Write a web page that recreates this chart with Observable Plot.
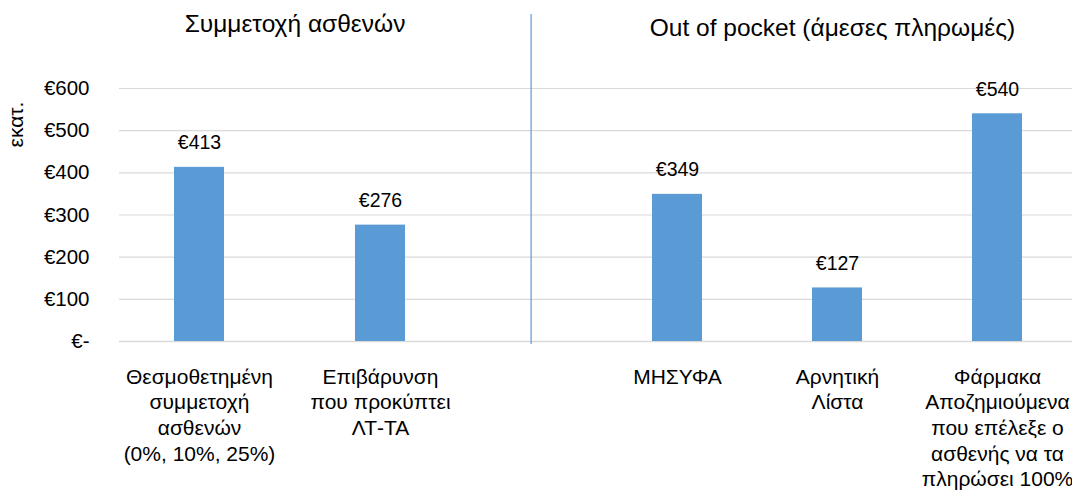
<!DOCTYPE html>
<html>
<head>
<meta charset="utf-8">
<script src="https://cdn.jsdelivr.net/npm/d3@7"></script>
<script src="https://cdn.jsdelivr.net/npm/@observablehq/plot@0.6"></script>
<style>
  html, body { margin: 0; padding: 0; background: #fff; }
  #chart { display: flex; width: 1072px; height: 499px; }
  #chart svg { flex: 0 0 auto; max-width: none; }
</style>
</head>
<body>
<div id="chart"></div>
<script>
// ---- data ----
const groupTitles = ["Συμμετοχή ασθενών", "Out of pocket (άμεσες πληρωμές)"];
const leftCategories = ["Θεσμοθετημένη\nσυμμετοχή\nασθενών\n(0%, 10%, 25%)", "Επιβάρυνση\nπου προκύπτει\nΛΤ-ΤΑ"];
const leftValues = [413, 276];
const rightCategories = ["ΜΗΣΥΦΑ", "Αρνητική\nΛίστα", "Φάρμακα\nΑποζημιούμενα\nπου επέλεξε ο\nασθενής να τα\nπληρώσει 100%"];
const rightValues = [349, 127, 540];
const yTicks = [0, 100, 200, 300, 400, 500, 600];
const yLabel = "εκατ.";

// ---- styling ----
const FONT = "'Liberation Sans', Arial, Helvetica, sans-serif";
const BAR = "#5b9bd5";
const GRID = "#d9d9d9";
const H = 499, MT = 88, MB = 158;
const euro = v => v === 0 ? "€-" : "€" + v;

function panel({cats, vals, title, width, marginLeft, xRange, pInner, titleDx, titleDy, withAxis, withSeparator}) {
  const data = cats.map((c, i) => ({c, v: vals[i]}));
  const marks = [
    Plot.gridY(yTicks, {stroke: GRID, strokeOpacity: 1, strokeWidth: 1.2}),
    Plot.ruleY([0], {stroke: GRID, strokeWidth: 1.6}),
    Plot.barY(data, {x: "c", y: "v", fill: BAR}),
    Plot.text(data, {x: "c", y: "v", text: d => euro(d.v), lineAnchor: "bottom", dy: -18, fontSize: 19.5, fill: "black"}),
    Plot.text(data, {x: "c", text: "c", frameAnchor: "bottom", lineAnchor: "top", dy: 24, fontSize: 21, lineHeight: 1.22, fill: "black"}),
    Plot.text([title], {frameAnchor: "top", lineAnchor: "middle", dx: titleDx, dy: titleDy, fontSize: 24.5, fill: "black"})
  ];
  if (withAxis) {
    marks.push(Plot.axisY(yTicks, {tickSize: 0, tickPadding: 30, tickFormat: euro, fontSize: 20.5, label: null, fill: "black"}));
    marks.push(Plot.text([yLabel], {frameAnchor: "top-left", rotate: -90, dx: -103, dy: 36, lineAnchor: "middle", textAnchor: "middle", fontSize: 21, fill: "black"}));
  }
  if (withSeparator) {
    marks.push(Plot.frame({anchor: "left", stroke: BAR, strokeWidth: 1.2, insetLeft: 0.6, insetTop: -74, insetBottom: -2}));
  }
  return Plot.plot({
    width, height: H,
    marginTop: MT, marginBottom: MB, marginLeft, marginRight: 0,
    style: {fontFamily: FONT, color: "black", background: "white"},
    x: {type: "band", domain: cats, range: xRange, paddingInner: pInner, paddingOuter: 0, axis: null},
    y: {domain: [0, 600], axis: null},
    marks
  });
}

const left = panel({
  cats: leftCategories, vals: leftValues, title: groupTitles[0],
  width: 530, marginLeft: 119, xRange: [174, 405], pInner: 0.7238,
  titleDx: -30, titleDy: -64, withAxis: true, withSeparator: false
});
const right = panel({
  cats: rightCategories, vals: rightValues, title: groupTitles[1],
  width: 542, marginLeft: 0, xRange: [122, 492], pInner: 0.6875,
  titleDx: 31, titleDy: -60, withAxis: false, withSeparator: true
});
document.getElementById("chart").append(left, right);
</script>
</body>
</html>
